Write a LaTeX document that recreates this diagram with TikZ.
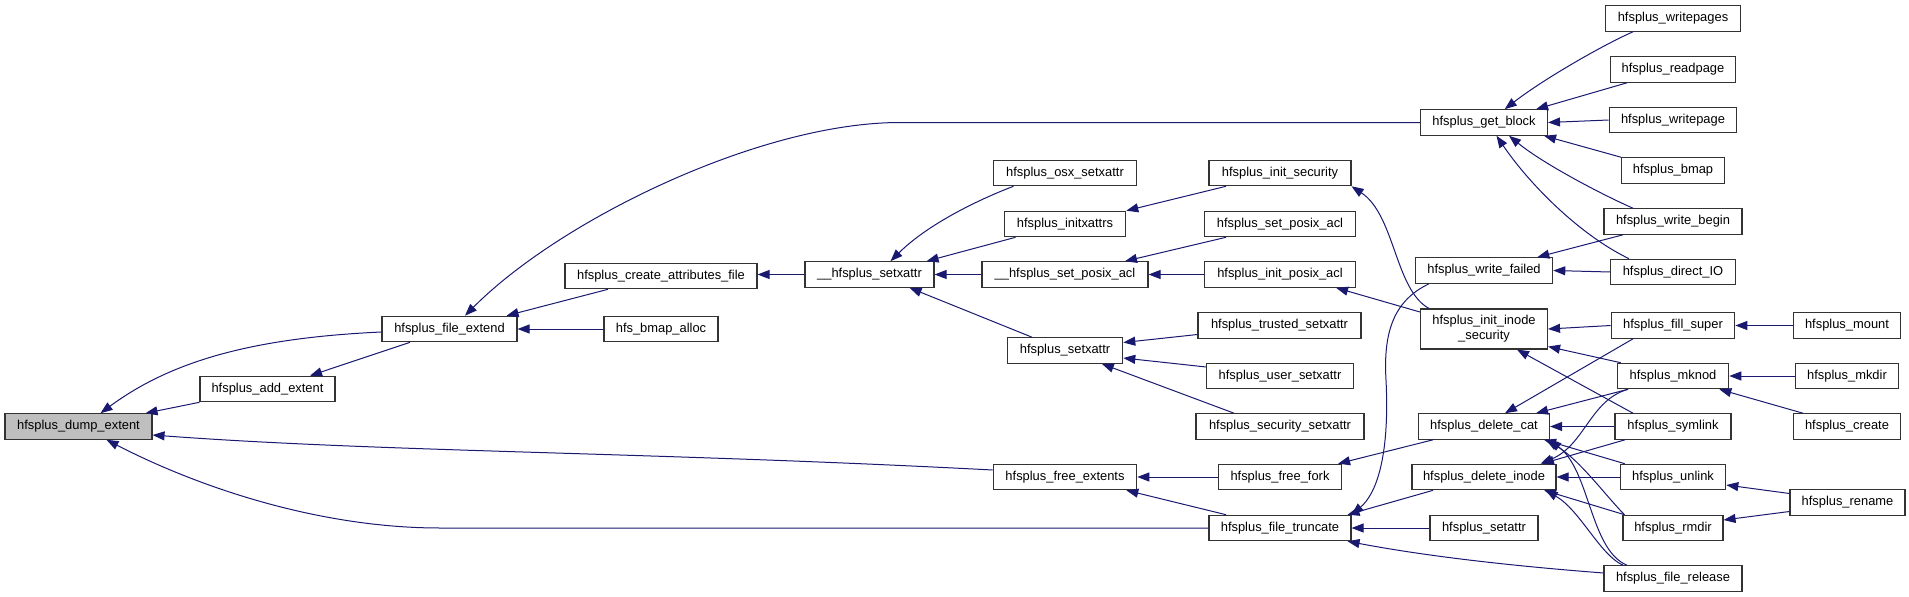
\documentclass[tikz,border=0pt]{standalone}
\usepackage{fontspec}
\setmainfont{Liberation Sans}
\usetikzlibrary{arrows.meta}
\definecolor{edgec}{HTML}{191970}
\tikzset{
  fn/.style={draw=black!80, line width=1.1pt, fill=white, inner sep=0pt,
    minimum height=25.5pt, font=\fontsize{12.9}{15}\selectfont},
  cur/.style={fill=black!25},
  arr/.style={draw=edgec, line width=1pt, -{Triangle[length=12pt,width=9pt]}}
}
\begin{document}
\begin{tikzpicture}[x=1pt,y=1pt]
\useasboundingbox (0,0) rectangle (1909,-597);
% column 1-5
\node[fn,cur,minimum width=147pt] (dump) at (78.5,-426.5) {hfsplus\_dump\_extent};
\node[fn,minimum width=135pt] (add) at (267.5,-389) {hfsplus\_add\_extent};
\node[fn,minimum width=135pt] (fext) at (449.5,-329) {hfsplus\_file\_extend};
\node[fn,minimum width=114pt] (balloc) at (661,-329) {hfs\_bmap\_alloc};
\node[fn,minimum width=192pt] (cattr) at (661,-276) {hfsplus\_create\_attributes\_file};
\node[fn,minimum width=129pt] (usetx) at (869.5,-274.5) {\_\_hfsplus\_setxattr};
% column 6
\node[fn,minimum width=143.5pt] (osx) at (1065,-173) {hfsplus\_osx\_setxattr};
\node[fn,minimum width=121.5pt] (initx) at (1065,-224) {hfsplus\_initxattrs};
\node[fn,minimum width=166pt] (uposix) at (1065,-274.5) {\_\_hfsplus\_set\_posix\_acl};
\node[fn,minimum width=115.5pt] (setx) at (1065,-350.5) {hfsplus\_setxattr};
\node[fn,minimum width=143.5pt] (freeext) at (1065,-477) {hfsplus\_free\_extents};
% column 7
\node[fn,minimum width=142pt] (initsec) at (1280,-173) {hfsplus\_init\_security};
\node[fn,minimum width=151pt] (setposix) at (1280,-224) {hfsplus\_set\_posix\_acl};
\node[fn,minimum width=151pt] (initposix) at (1280,-274.5) {hfsplus\_init\_posix\_acl};
\node[fn,minimum width=163pt] (trusted) at (1279.5,-325.5) {hfsplus\_trusted\_setxattr};
\node[fn,minimum width=146.5pt] (user) at (1280,-376) {hfsplus\_user\_setxattr};
\node[fn,minimum width=168pt] (security) at (1280,-426.5) {hfsplus\_security\_setxattr};
\node[fn,minimum width=123pt] (freefork) at (1280,-477) {hfsplus\_free\_fork};
\node[fn,minimum width=142pt] (trunc) at (1280,-528) {hfsplus\_file\_truncate};
% column 8
\node[fn,minimum width=127pt] (getblock) at (1484,-122.5) {hfsplus\_get\_block};
\node[fn,minimum width=137.5pt] (wfailed) at (1484,-270.5) {hfsplus\_write\_failed};
\node[fn,minimum width=127pt,minimum height=40pt,align=center] (inodesec) at (1484,-329) {hfsplus\_init\_inode\\\_security};
\node[fn,minimum width=131pt] (delcat) at (1484,-426.5) {hfsplus\_delete\_cat};
\node[fn,minimum width=144pt] (delinode) at (1484,-477) {hfsplus\_delete\_inode};
\node[fn,minimum width=108pt] (setattr) at (1484,-528) {hfsplus\_setattr};
% column 9
\node[fn,minimum width=135pt] (writepages) at (1673,-18.5) {hfsplus\_writepages};
\node[fn,minimum width=124.5pt] (readpage) at (1673,-69.5) {hfsplus\_readpage};
\node[fn,minimum width=127.5pt] (writepage) at (1673,-120) {hfsplus\_writepage};
\node[fn,minimum width=103pt] (bmap) at (1673,-170.5) {hfsplus\_bmap};
\node[fn,minimum width=138pt] (wbegin) at (1673,-221.5) {hfsplus\_write\_begin};
\node[fn,minimum width=124.5pt] (directio) at (1673,-272) {hfsplus\_direct\_IO};
\node[fn,minimum width=123.5pt] (fillsuper) at (1673,-325.5) {hfsplus\_fill\_super};
\node[fn,minimum width=111.5pt] (mknod) at (1673,-376) {hfsplus\_mknod};
\node[fn,minimum width=116pt] (symlink) at (1673,-426.5) {hfsplus\_symlink};
\node[fn,minimum width=105.5pt] (unlink) at (1673,-477) {hfsplus\_unlink};
\node[fn,minimum width=100pt] (rmdir) at (1673,-528) {hfsplus\_rmdir};
\node[fn,minimum width=138pt] (release) at (1673,-578.5) {hfsplus\_file\_release};
% column 10
\node[fn,minimum width=107pt] (mount) at (1847,-325.5) {hfsplus\_mount};
\node[fn,minimum width=103pt] (mkdir) at (1847,-376) {hfsplus\_mkdir};
\node[fn,minimum width=107pt] (create) at (1847,-426.5) {hfsplus\_create};
\node[fn,minimum width=115pt] (rename) at (1847.5,-502.5) {hfsplus\_rename};
% edges
\draw[arr] ([yshift=-3pt]fext.west) .. controls (250,-338) and (170,-362) .. ([xshift=22pt]dump.north);
\draw[arr] (add.south west) -- ([xshift=-7pt]dump.north east);
\draw[arr] ([yshift=7pt]freeext.west) .. controls (650,-452) and (380,-452) .. ([yshift=-8.5pt]dump.east);
\draw[arr] (trunc.west) -- (440,-528) .. controls (320,-528) and (200,-488) .. ([xshift=28pt]dump.south);
\draw[arr] ([xshift=-39.5pt]fext.south) -- ([xshift=42.5pt]add.north);
\draw[arr] (getblock.west) -- (900,-122.5) .. controls (760,-122.5) and (560,-220) .. ([xshift=15.5pt]fext.north);
\draw[arr] ([xshift=-53pt]cattr.south) -- ([xshift=-11pt]fext.north east);
\draw[arr] (balloc.west) -- (fext.east);
\draw[arr] (usetx.west) -- (usetx.west -| cattr.east);
\draw[arr] ([xshift=-51.5pt]osx.south) .. controls (985,-197) and (930,-222) .. ([xshift=21pt]usetx.north);
\draw[arr] ([xshift=-49.5pt]initx.south) -- ([xshift=-8pt]usetx.north east);
\draw[arr] (uposix.west) -- (usetx.east);
\draw[arr] ([xshift=-33pt]setx.north) -- ([xshift=-25pt]usetx.south east);
\draw[arr] ([xshift=-54pt]initsec.south) -- (initx.north east);
\draw[arr] ([xshift=-54pt]setposix.south) -- ([xshift=60pt]uposix.north);
\draw[arr] (initposix.west) -- (uposix.east);
\draw[arr] ([yshift=-9pt]trusted.west) -- ([yshift=8pt]setx.east);
\draw[arr] ([yshift=9pt]user.west) -- ([yshift=-7.5pt]setx.east);
\draw[arr] ([xshift=-46pt]security.north) -- ([xshift=-21.5pt]setx.south east);
\draw[arr] (freefork.west) -- (freeext.east);
\draw[arr] ([xshift=-54pt]trunc.north) -- ([xshift=-11pt]freeext.south east);
\draw[arr] ([xshift=-40pt]writepages.south) .. controls (1605,-44) and (1545,-78) .. ([xshift=20.7pt]getblock.north);
\draw[arr] ([xshift=-46pt]readpage.south) -- ([xshift=-12pt]getblock.north east);
\draw[arr] (writepage.west) -- (getblock.east);
\draw[arr] (bmap.north west) -- ([xshift=-4pt]getblock.south east);
\draw[arr] ([xshift=-40pt]wbegin.north) .. controls (1605,-196) and (1545,-165) .. ([xshift=25pt]getblock.south);
\draw[arr] ([xshift=-44pt]directio.north) .. controls (1580,-235) and (1530,-185) .. ([xshift=12.5pt]getblock.south);
\draw[arr] ([xshift=-50pt]wbegin.south) -- ([xshift=-16pt]wfailed.north east);
\draw[arr] (directio.west) -- (wfailed.east);
\draw[arr] ([xshift=-55pt]inodesec.north) .. controls (1395,-290) and (1395,-215) .. (initsec.south east);
\draw[arr] ([xshift=-55pt]wfailed.south) .. controls (1395,-300) and (1383,-330) .. (1386,-380) .. controls (1390,-460) and (1375,-495) .. (trunc.north east);
\draw[arr] ([yshift=17pt]inodesec.west) -- ([xshift=-20pt]initposix.south east);
\draw[arr] (fillsuper.west) -- (inodesec.east);
\draw[arr] ([xshift=4pt]mknod.north west) -- ([yshift=3pt]inodesec.south east);
\draw[arr] ([xshift=-40pt]symlink.north) -- ([xshift=33pt]inodesec.south);
\draw[arr] (mount.west) -- (fillsuper.east);
\draw[arr] (mkdir.west) -- (mknod.east);
\draw[arr] ([xshift=-44pt]create.north) -- ([xshift=-10pt]mknod.south east);
\draw[arr] ([xshift=-40pt]fillsuper.south) -- ([xshift=21pt]delcat.north);
\draw[arr] ([xshift=-45pt]mknod.south) -- ([xshift=-14pt]delcat.north east);
\draw[arr] (symlink.west) -- (delcat.east);
\draw[arr] ([xshift=5pt]unlink.north west) -- ([xshift=-6pt]delcat.south east);
\draw[arr] ([xshift=2pt]rmdir.north west) .. controls (1605,-495) and (1580,-460) .. ([xshift=-4pt]delcat.south east);
\draw[arr] ([xshift=-46pt]release.north) .. controls (1590,-550) and (1590,-470) .. ([xshift=-1pt]delcat.south east);
\draw[arr] ([xshift=-51pt]delcat.south) -- ([xshift=-4pt]freefork.north east);
\draw[arr] ([xshift=-45pt]mknod.south) .. controls (1590,-400) and (1585,-445) .. ([xshift=-16pt]delinode.north east);
\draw[arr] ([xshift=-48pt]symlink.south) -- ([xshift=-14.6pt]delinode.north east);
\draw[arr] (unlink.west) -- (delinode.east);
\draw[arr] ([xshift=2pt]rmdir.north west) -- ([xshift=-12.5pt]delinode.south east);
\draw[arr] ([xshift=-50pt]release.north) .. controls (1600,-555) and (1580,-510) .. ([xshift=-11pt]delinode.south east);
\draw[arr] ([xshift=-51pt]delinode.south) -- ([xshift=-4pt]trunc.north east);
\draw[arr] (setattr.west) -- (trunc.east);
\draw[arr] ([yshift=5.5pt]release.west) .. controls (1500,-565) and (1420,-555) .. ([xshift=-4pt]trunc.south east);
\draw[arr] ([yshift=9pt]rename.west) -- ([yshift=-8pt]unlink.east);
\draw[arr] ([yshift=-9pt]rename.west) -- ([yshift=8pt]rmdir.east);
\end{tikzpicture}
\end{document}
